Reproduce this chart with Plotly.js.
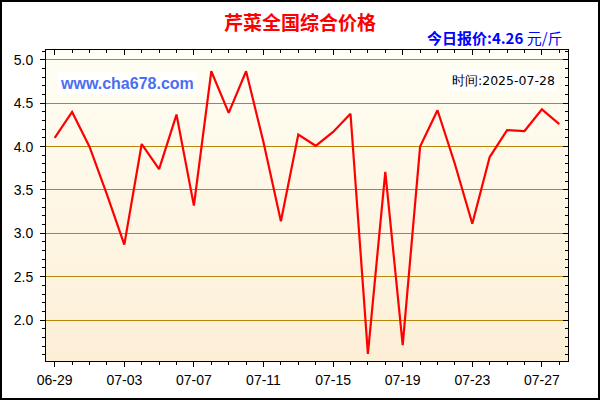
<!DOCTYPE html>
<html>
<head>
<meta charset="utf-8">
<script src="https://cdn.plot.ly/plotly-3.0.1.min.js"></script>
<style>
html,body{margin:0;padding:0;background:#fff;}
#wrap{position:relative;width:600px;height:400px;}
#chart{position:absolute;left:0;top:0;width:600px;height:400px;}
#frame{position:absolute;left:0;top:0;width:600px;height:400px;box-sizing:border-box;border:2px solid #000;pointer-events:none;}
</style>
</head>
<body>
<div id="wrap"><div id="chart"></div><div id="frame"></div></div>
<script>
const dates = ["06-29","06-30","07-01","07-02","07-03","07-04","07-05","07-06","07-07","07-08",
               "07-09","07-10","07-11","07-12","07-13","07-14","07-15","07-16","07-17","07-18",
               "07-19","07-20","07-21","07-22","07-23","07-24","07-25","07-26","07-27","07-28"];
const prices = [4.10,4.40,4.00,3.45,2.87,4.03,3.74,4.37,3.32,4.87,
                4.39,4.87,4.05,3.14,4.14,4.01,4.17,4.38,1.61,3.71,
                1.71,4.00,4.42,3.80,3.11,3.88,4.19,4.18,4.43,4.26];
const titleText = "芹菜全国综合价格";
const siteText = "www.cha678.com";
const dateText = "时间:2025-07-28";
const unitText = "元/斤";

const idx = dates.map((d,i)=>i);
const tickIdx = idx.filter(i => i % 4 === 0);
const tickTxt = tickIdx.map(i => dates[i]);

const svg = "<svg xmlns='http://www.w3.org/2000/svg' width='10' height='100' preserveAspectRatio='none'>" +
  "<defs><linearGradient id='g' x1='0' y1='0' x2='0' y2='1'>" +
  "<stop offset='0' stop-color='#FFFEF4'/><stop offset='1' stop-color='#FDEFD6'/></linearGradient></defs>" +
  "<rect width='10' height='100' fill='url(#g)'/></svg>";
const bg = "data:image/svg+xml;charset=utf-8," + encodeURIComponent(svg);

const xr = [-0.5, 29.5];
const yr = [1.527, 5.115];
const tickFont = {family:"Arial, 'Liberation Sans', sans-serif", size:14, color:"#000"};

const traces = [
  {x: idx, y: prices, type:"scatter", mode:"lines",
   line:{color:"#FF0000", width:2.2}, hoverinfo:"x+y", showlegend:false},
  {x: idx, y: prices, type:"scatter", mode:"lines", xaxis:"x2", yaxis:"y2",
   line:{color:"rgba(0,0,0,0)", width:0}, hoverinfo:"skip", showlegend:false}
];

const layout = {
  width:600, height:400,
  margin:{l:46, r:32, t:50, b:39},
  paper_bgcolor:"rgba(0,0,0,0)",
  plot_bgcolor:"rgba(0,0,0,0)",
  showlegend:false,
  title:{text:titleText, xref:"container", x:0.5, xanchor:"center",
         yref:"container", y:0.942, yanchor:"middle",
         font:{family:"'Noto Sans CJK SC', sans-serif", size:19, color:"#FF0000", weight:"bold"}},
  xaxis:{range:xr, tickmode:"array", tickvals:tickIdx, ticktext:tickTxt,
         ticks:"outside", ticklen:5, tickwidth:1, tickcolor:"#000",
         minor:{tickmode:"linear", tick0:0, dtick:1, ticks:"outside", ticklen:3, tickcolor:"#000", showgrid:false},
         showline:true, linecolor:"#000", linewidth:1, mirror:true,
         showgrid:false, zeroline:false, tickfont:tickFont, ticklabelstandoff:1, fixedrange:true},
  yaxis:{range:yr, tickmode:"linear", tick0:0, dtick:0.5, tickformat:".1f",
         ticks:"outside", ticklen:5, tickwidth:1, tickcolor:"#000",
         minor:{tickmode:"linear", tick0:0, dtick:0.1, ticks:"outside", ticklen:3, tickcolor:"#000", showgrid:false},
         showline:true, linecolor:"#000", linewidth:1, mirror:true,
         showgrid:true, gridcolor:"#B8860B", gridwidth:1, zeroline:false,
         tickfont:tickFont, ticklabelstandoff:4, fixedrange:true},
  xaxis2:{overlaying:"x", side:"top", range:xr, tickmode:"array", tickvals:tickIdx,
          ticks:"inside", ticklen:5, tickcolor:"#000",
          minor:{tickmode:"linear", tick0:0, dtick:1, ticks:"inside", ticklen:3, tickcolor:"#000", showgrid:false},
          showticklabels:false, showgrid:false, zeroline:false, showline:false, fixedrange:true},
  yaxis2:{overlaying:"y", side:"right", range:yr, tickmode:"linear", tick0:0, dtick:0.5,
          ticks:"inside", ticklen:5, tickcolor:"#000",
          minor:{tickmode:"linear", tick0:0, dtick:0.1, ticks:"inside", ticklen:3, tickcolor:"#000", showgrid:false},
          showticklabels:false, showgrid:false, zeroline:false, showline:false, fixedrange:true},
  images:[{source:bg, xref:"paper", yref:"paper", x:0, y:1, sizex:1, sizey:1,
           xanchor:"left", yanchor:"top", sizing:"stretch", layer:"below"}],
  annotations:[
    {text:"<b>今日报价:" + prices[prices.length-1].toFixed(2) + "</b> " + unitText,
     xref:"paper", yref:"paper", x:0.994, xanchor:"right", y:1.0386, yanchor:"middle",
     showarrow:false, font:{family:"'Noto Sans CJK SC', sans-serif", size:15, color:"#0000FF"}},
    {text:"<b>" + siteText + "</b>", xref:"paper", yref:"paper", x:0.021, xanchor:"left",
     y:0.929, yanchor:"top", showarrow:false, bgcolor:"#FFFFFF", borderpad:2,
     font:{family:"Arial, 'Liberation Sans', sans-serif", size:16, color:"#4D6DF0"}},
    {text:dateText, xref:"paper", yref:"paper", x:0.981, xanchor:"right",
     y:0.936, yanchor:"top", showarrow:false, bgcolor:"#FFFFFF", borderpad:2,
     font:{family:"'DejaVu Sans', sans-serif", size:12.5, color:"#000"}}
  ]
};

Plotly.newPlot("chart", traces, layout, {displayModeBar:false, staticPlot:true});
</script>
</body>
</html>
